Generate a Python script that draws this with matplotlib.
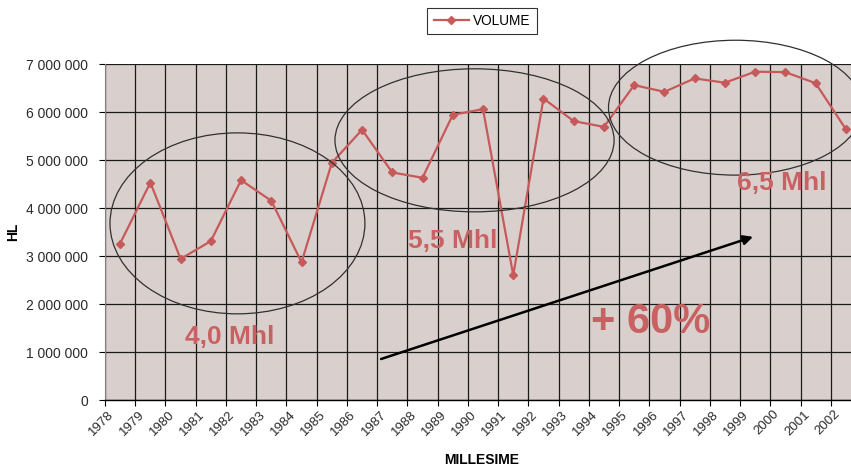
import matplotlib
matplotlib.use("Agg")
import matplotlib.pyplot as plt
from matplotlib.patches import Ellipse
from matplotlib.ticker import FuncFormatter, FixedLocator
import matplotlib.transforms as mtransforms
import numpy as np

plt.rcParams['font.family'] = ['Liberation Sans', 'DejaVu Sans']

years = ['1978', '1979', '1980', '1981', '1982', '1983', '1984', '1985', '1986',
         '1987', '1988', '1989', '1990', '1991', '1992', '1993', '1994', '1995',
         '1996', '1997', '1998', '1999', '2000', '2001', '2002']
volume = [3260000, 4530000, 2940000, 3310000, 4580000, 4150000, 2870000, 4940000,
          5630000, 4740000, 4630000, 5940000, 6060000, 2600000, 6280000, 5810000,
          5690000, 6560000, 6420000, 6700000, 6610000, 6840000, 6830000, 6600000,
          5640000]
series_name = 'VOLUME'
y_ticks = [0, 1000000, 2000000, 3000000, 4000000, 5000000, 6000000, 7000000]

RED = '#C65A5A'
TXT = '#C86262'
BG = '#D9D0CD'

W, H = 851, 471
fig = plt.figure(figsize=(W / 100, H / 100), dpi=100)
fig.patch.set_facecolor('white')
ax = fig.add_axes([105 / W, 1 - 400 / H, 756 / W, 336 / H])
ax.set_facecolor(BG)

x = np.arange(len(years))
line, = ax.plot(x, volume, color=RED, lw=1.6, marker='D', ms=4.5, mec=RED, mfc=RED,
                zorder=5, label=series_name)

ax.set_xlim(-0.5, len(years) - 0.5)
ax.set_ylim(0, 7000000)

# category boundaries: gridlines + tick marks
ax.xaxis.set_major_locator(FixedLocator(np.arange(-0.5, len(years), 1.0)))
ax.xaxis.set_major_formatter(FuncFormatter(lambda v, p: ''))
ax.set_xticks(x, minor=True)
ax.set_xticklabels(years, minor=True, rotation=45, ha='right', va='center',
                   rotation_mode='anchor', fontsize=9.5, color='#2a2a2a')
ax.tick_params(axis='x', which='major', length=4, width=0.8, color='black', direction='out')
ax.tick_params(axis='x', which='minor', length=0, pad=9)
offset = mtransforms.ScaledTranslation(-8 / 100, 0, fig.dpi_scale_trans)
for lab in ax.get_xticklabels(minor=True):
    lab.set_transform(lab.get_transform() + offset)

ax.set_yticks(y_ticks)
ax.yaxis.set_major_formatter(FuncFormatter(
    lambda v, p: '{:,}'.format(int(v)).replace(',', ' ')))
ax.tick_params(axis='y', length=4, width=0.8, color='black', labelsize=10,
               labelcolor='#2a2a2a', pad=8)

ax.grid(True, which='major', color='#1a1a1a', lw=0.9, zorder=1)
ax.set_axisbelow(True)

for s in ['top', 'right']:
    ax.spines[s].set_visible(False)
ax.spines['left'].set_color('#808080')
ax.spines['bottom'].set_color('black')
ax.spines['bottom'].set_linewidth(1.0)

ax.set_ylabel('HL', fontweight='bold', fontsize=10)
ax.yaxis.set_label_coords((20 - 105) / 756, 0.5)
fig.text(482 / W, 1 - 460 / H, 'MILLESIME', fontweight='bold', fontsize=10,
         ha='center', va='center')

# legend
leg = fig.legend(handles=[line], loc='upper center', bbox_to_anchor=(482 / W, 1 - 8 / H),
                 frameon=True, fancybox=False, edgecolor='black', fontsize=9.8,
                 handlelength=2.6, borderpad=0.45, handletextpad=0.3, borderaxespad=0)
leg.get_frame().set_linewidth(0.8)

# ellipses (annotations)
ell_style = dict(fill=False, ec='#303030', lw=0.9, clip_on=False, zorder=6)
ax.add_patch(Ellipse((3.88, 3680000), 8.43, 3770000, **ell_style))
ax.add_patch(Ellipse((11.72, 5410000), 9.23, 2980000, **ell_style))
ax.add_patch(Ellipse((20.35, 6090000), 8.4, 2810000, **ell_style))

# arrow
ax.annotate('', xy=(20.93, 3400000), xytext=(8.63, 854000),
            arrowprops=dict(arrowstyle='-|>', color='black', lw=1.8,
                            mutation_scale=14, shrinkA=0, shrinkB=0), zorder=7)

tstyle = dict(color=TXT, fontweight='bold', ha='center', va='baseline', zorder=8)
ax.text(3.63, 1167000, '4,0 Mhl', fontsize=19, **tstyle)
ax.text(11.01, 3170000, '5,5 Mhl', fontsize=19, **tstyle)
ax.text(21.89, 4375000, '6,5 Mhl', fontsize=19, **tstyle)
ax.text(17.55, 1396000, '+ 60%', fontsize=30, **tstyle)

fig.savefig('out.png', dpi=100)
